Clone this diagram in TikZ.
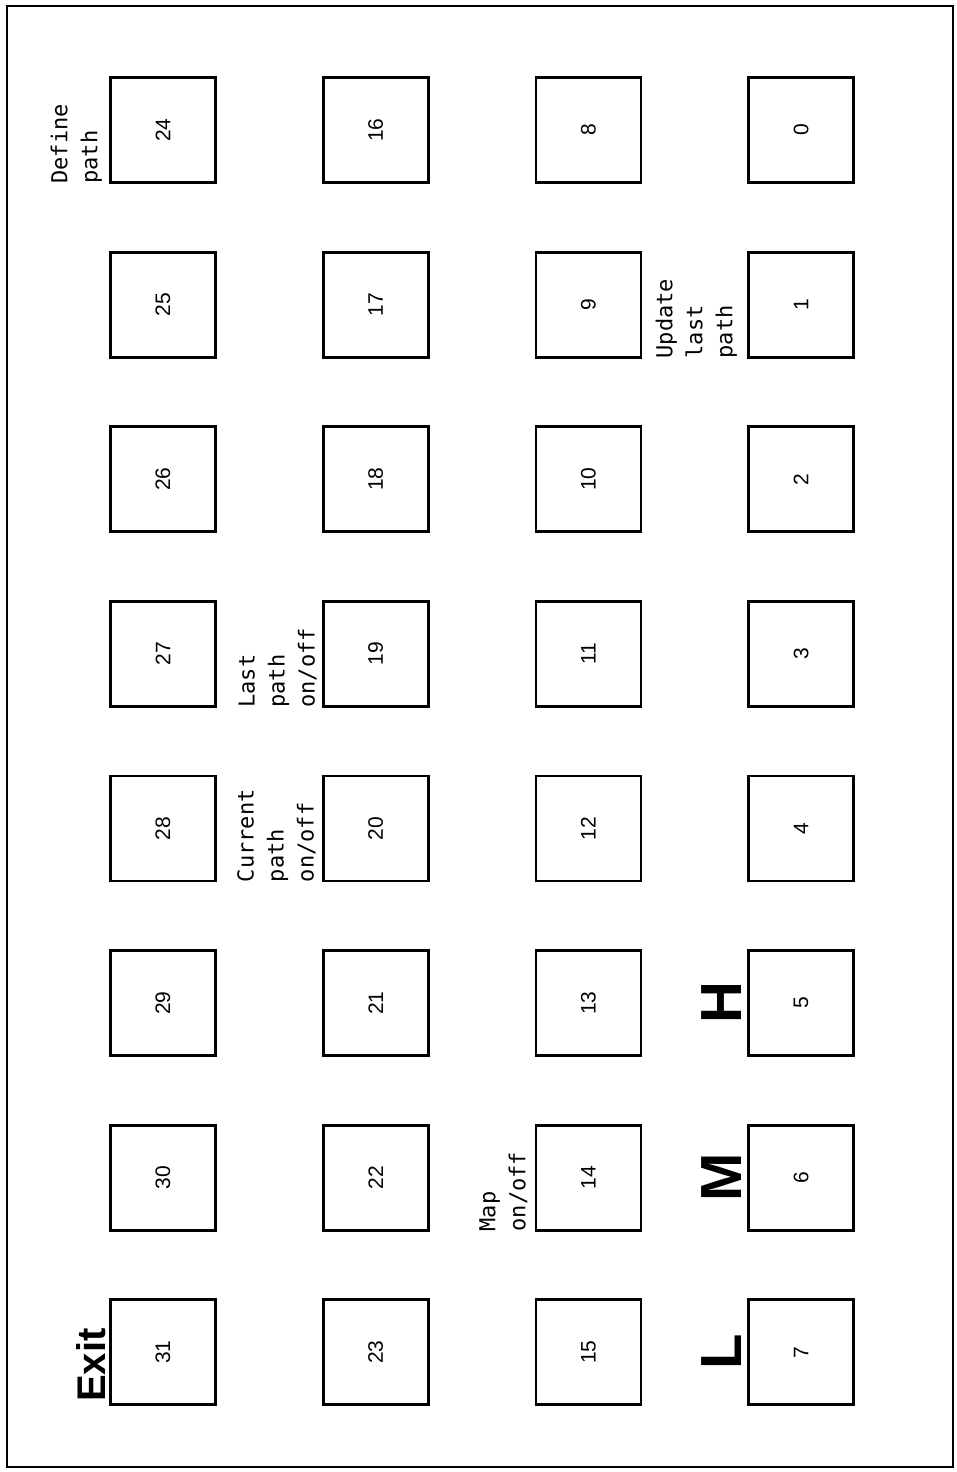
\documentclass[tikz,border=0pt]{standalone}
\usepackage{fontspec}
\setmainfont{Liberation Sans}
\setmonofont{DejaVu Sans Mono}
\usetikzlibrary{positioning}

\begin{document}
\begin{tikzpicture}[
    x=1pt, y=-1pt,
    key/.style={rectangle, draw, line width=2.8pt, minimum size=105pt, inner sep=0pt, rotate=90, font=\fontsize{21}{24}\selectfont},
    tag/.style={rotate=90, align=left, inner sep=0pt, anchor=south west, font=\ttfamily\fontsize{22}{30}\selectfont},
    big/.style={rotate=90, inner sep=0pt, anchor=south, font=\bfseries\fontsize{58}{60}\selectfont}
]
    \useasboundingbox (0,0) rectangle (956,1472);
    % Frame
    \draw[line width=2.5pt] (7,6) rectangle (953,1467);

    % Keys 0..31
    \foreach \c in {0,...,3} {
        \foreach \r in {0,...,7} {
            \pgfmathtruncatemacro{\n}{(3-\c)*8+\r}
            \node[key] (k\n) at (163+212.7*\c, 130+174.6*\r) {\n};
        }
    }

    % Key labels
    \node[tag] (define) at ([xshift=-7pt]k24.north west) {Define\\path};
    \node[tag] (update) at ([xshift=-10pt]k1.north west) {Update\\last\\path};
    \node[tag] (lastpath) at ([xshift=-5pt]k19.north west) {Last\\path\\on/off};
    \node[tag] (curpath) at ([xshift=-6pt]k20.north west) {Current\\path\\on/off};
    \node[tag] (map) at ([xshift=-7pt]k14.north west) {Map\\on/off};
    \node[tag, font=\bfseries\fontsize{40}{44}\selectfont] (exit) at ([xshift=-3pt, yshift=4pt]k31.north west) {Exit};

    % Speed letters
    \node[big] (high) at ([xshift=-6pt]k5.north) {H};
    \node[big] (mid) at ([xshift=-6pt]k6.north) {M};
    \node[big] (low) at ([xshift=-6pt]k7.north) {L};
\end{tikzpicture}
\end{document}
